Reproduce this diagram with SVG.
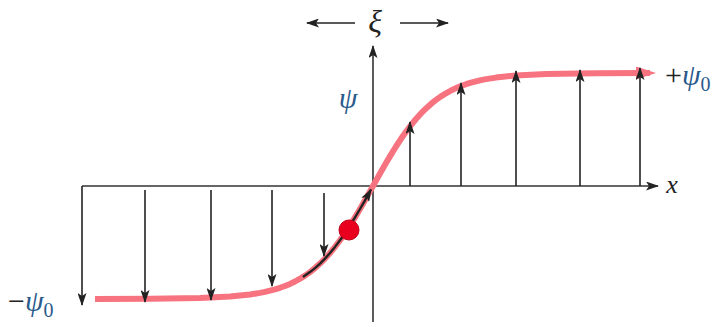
<svg xmlns="http://www.w3.org/2000/svg" width="721" height="327" viewBox="0 0 721 327">
<style>
.ax{stroke:#333;stroke-width:1.6;fill:none}
.vec{stroke:#222;stroke-width:1.6;fill:none;marker-end:url(#ah)}
.t{font-family:"Liberation Serif","DejaVu Serif",serif;font-style:italic;fill:#222}
.psi{fill:#2b5a8c}
</style>
<defs>
<marker id="ah" markerWidth="13" markerHeight="9" refX="12" refY="4.5" orient="auto" markerUnits="userSpaceOnUse">
<path d="M0,0 L13,4.5 L0,9 L3,4.5 Z" fill="#222"/>
</marker>
<marker id="pk" markerWidth="20" markerHeight="13" refX="14" refY="6.5" orient="auto" markerUnits="userSpaceOnUse">
<path d="M0,0 L20,6.5 L0,13 Z" fill="#f6737f"/>
</marker>
</defs>
<g id="axes">
<path class="ax" d="M82,186 L658,186" marker-end="url(#ah)"/>
<path class="ax" d="M373,322 L373,46" marker-end="url(#ah)"/>
</g>
<g id="xi-arrows">
<path class="vec" d="M355,23 L307,23"/>
<path class="vec" d="M400,23 L448,23"/>
</g>
<g id="curve">
<path d="M95,299 L150,298.8 L200,298.1 L230,296.6 L250,294.5 L260,292.9 L265,291.9 L270,290.7 L275,289.4 L280,287.8 L285,286 L290,283.9 L295,281.5 L300,278.7 L305,275.6 L310,272.1 L315,268.1 L320,263.6 L325,258.6 L330,253 L335,246.9 L340,240.3 L345,233.2 L350,225.5 L355,217.4 L360,209 L365,200.3 L370,191.4 L373,186 L376,180.6 L381,171.7 L386,163 L391,154.6 L396,146.5 L401,138.8 L406,131.7 L411,125.1 L416,119 L421,113.4 L426,108.4 L431,103.9 L436,99.9 L441,96.4 L446,93.3 L451,90.5 L456,88.1 L461,86 L466,84.2 L471,82.6 L476,81.3 L481,80.1 L486,79.1 L496,77.6 L516,75.4 L546,73.9 L596,73.2 L650,73" stroke="#f6737f" stroke-width="6" fill="none" stroke-linejoin="round" marker-end="url(#pk)"/>
</g>
<g id="connectors">
<path class="vec" d="M82,186 L82,305"/>
<path class="vec" d="M145,190 L145,302"/>
<path class="vec" d="M211,190 L211,300"/>
<path class="vec" d="M272,190 L272,286"/>
<path class="vec" d="M324,193 L324,256"/>
<path class="vec" d="M410,186 L410,122"/>
<path class="vec" d="M461,186 L461,83"/>
<path class="vec" d="M516,186 L516,71"/>
<path class="vec" d="M580,186 L580,70"/>
<path class="vec" d="M640,186 L640,68"/>
<path d="M303,277 L305,275.6 L310,272.1 L315,268.1 L320,263.6 L325,258.6 L330,253 L335,246.9 L340,240.3 L345,233.2 L350,225.5 L355,217.4 L360,209 L365,200.3 L371,189.5" stroke="#222" stroke-width="2.4" fill="none" stroke-linejoin="round" marker-end="url(#ah)"/>
</g>
<g id="dot">
<circle cx="349" cy="230" r="10" fill="#e8001e" stroke="#c00018" stroke-width="1"/>
</g>
<g id="labels">
<text class="t" x="375" y="32" font-size="32" text-anchor="middle">ξ</text>
<text class="t psi" x="348" y="108" font-size="30" text-anchor="middle">ψ</text>
<text class="t" x="672" y="193" font-size="26" text-anchor="middle">x</text>
<text class="t" x="665" y="85" font-size="30"><tspan font-style="normal">+</tspan><tspan class="psi">ψ</tspan><tspan class="psi" font-style="normal" font-size="20" dy="6">0</tspan></text>
<text class="t" x="8" y="311" font-size="30"><tspan font-style="normal">−</tspan><tspan class="psi">ψ</tspan><tspan class="psi" font-style="normal" font-size="20" dy="6">0</tspan></text>
</g>
</svg>
